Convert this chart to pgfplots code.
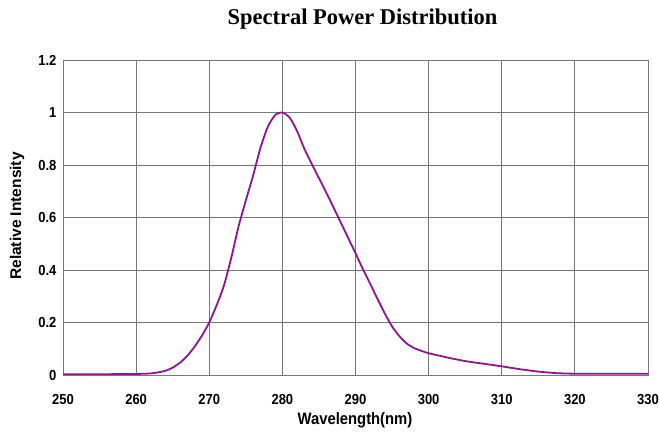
\documentclass[border=0pt]{standalone}
\usepackage{pgfplots}
\pgfplotsset{compat=1.18}
\usepackage{fontspec}
\setmainfont{Liberation Sans}
\newfontfamily\titlefont{Liberation Serif}
\definecolor{curve}{RGB}{140,22,140}
\definecolor{gridc}{RGB}{120,120,120}

\begin{document}
\begin{tikzpicture}[x=1pt,y=1pt]
\useasboundingbox (0,0) rectangle (659,439);
\begin{axis}[
    at={(63pt,64pt)}, anchor=south west,
    scale only axis,
    width=585pt, height=315pt,
    xmin=250, xmax=330, ymin=0, ymax=1.2,
    xtick={250,260,...,330},
    ytick={0,0.2,...,1.2},
    yticklabels={0,0.2,0.4,0.6,0.8,1,1.2},
    grid=major,
    grid style={gridc, line width=0.9pt},
    axis line style={gridc, line width=0.9pt},
    major tick length=0pt,
    tick label style={font=\fontsize{13}{15}\selectfont\bfseries, yscale=1.12},
    /pgf/number format/assume math mode=true,
    xticklabel style={yshift=-14pt},
    yticklabel style={xshift=-3pt},
]
\addplot[curve, line width=1.8pt, smooth, tension=0.4] coordinates {
(250,0.003) (255,0.003) (260,0.004) (262,0.006) (263,0.01) (264,0.016)
(265,0.028) (266,0.047) (267,0.073) (268,0.108) (269,0.15) (270,0.2)
(271,0.265) (272,0.34) (273,0.445) (274,0.565) (275,0.665) (276,0.76)
(277,0.865) (278,0.945) (279,0.99) (280,1.0) (281,0.98) (282,0.93)
(283,0.862) (284,0.805) (285,0.75) (286,0.695) (287,0.638) (288,0.58)
(289,0.522) (290,0.464) (291,0.404) (292,0.348) (293,0.29) (294,0.235)
(295,0.185) (296,0.148) (297,0.12) (298,0.103) (299,0.092) (300,0.083)
(302.5,0.067) (305,0.053) (307.5,0.043) (310,0.033) (312.5,0.022)
(315,0.013) (317.5,0.007) (320,0.005) (325,0.005) (330,0.005)
};
\end{axis}
\node[font=\titlefont\bfseries\fontsize{22.5}{25}\selectfont] at (362.5,420) {Spectral Power Distribution};
\node[font=\bfseries\fontsize{14.8}{17}\selectfont, yscale=1.12] at (355,19) {Wavelength(nm)};
\node[font=\bfseries\fontsize{15.5}{17}\selectfont, rotate=90] at (17,223) {Relative Intensity};
\end{tikzpicture}
\end{document}
